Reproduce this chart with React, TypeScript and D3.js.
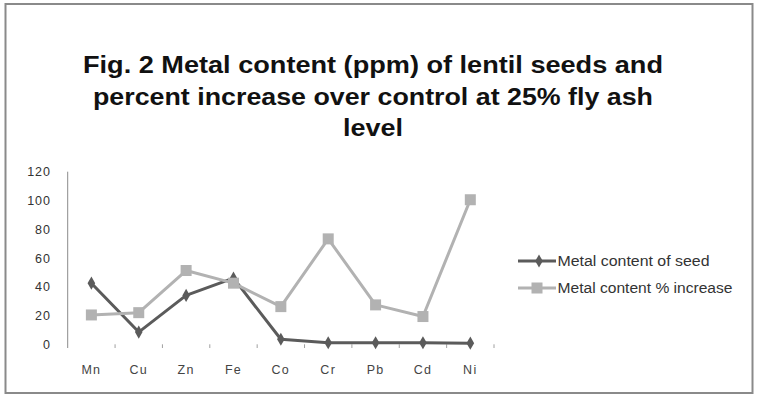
import React from "react";
import * as d3 from "d3";

// categories + the two series
const metals = ["Mn", "Cu", "Zn", "Fe", "Co", "Cr", "Pb", "Cd", "Ni"];
const seedContent = [42.5, 8.5, 34, 46, 3.5, 1.1, 1.1, 1.1, 0.8];
const pctIncrease = [20.4, 22, 51.3, 42.5, 26.2, 73.3, 27.4, 19.3, 100.5];
const yTicks = [0, 20, 40, 60, 80, 100, 120];
const titleLines = [
  "Fig. 2 Metal content (ppm) of lentil seeds and",
  "percent increase over control at 25% fly ash",
  "level",
];
const legendNames = ["Metal content of seed", "Metal content % increase"];

const W = 759;
const H = 399;
const DARK = "#5b5b5b";
const LIGHT = "#b2b2b2";

const App: React.FC = () => {
  const x = d3.scaleBand<string>().domain(metals).range([67.7, 494]).padding(0);
  const y = d3.scaleLinear().domain([0, 120]).range([344.3, 171.7]);
  const cx = (m: string) => (x(m) ?? 0) + x.bandwidth() / 2;

  const line = d3
    .line<number>()
    .x((_, i) => cx(metals[i]))
    .y((d) => y(d));

  const diamond = d3.symbol().type(d3.symbolDiamond).size(50)();

  // title widths measured on the picture
  const titleWidths = [580, 560, 60];
  const titleBase = [73.3, 104.5, 136];

  return (
    <svg width={W} height={H} style={{ position: "absolute", left: 0, top: 0 }}>
      <rect x={0} y={0} width={W} height={H} fill="#fff" />
      <rect x={5.5} y={4} width={747} height={389} fill="#fff" stroke="#8a8a8a" strokeWidth={2} />

      {/* title */}
      <g fontFamily="'Liberation Sans', Arial, sans-serif" fontWeight="bold" fontSize={23} fill="#111">
        {titleLines.map((t, i) => (
          <text
            key={i}
            x={373}
            y={titleBase[i]}
            textAnchor="middle"
            textLength={titleWidths[i]}
            lengthAdjust="spacingAndGlyphs"
          >
            {t}
          </text>
        ))}
      </g>

      {/* y axis */}
      <line x1={67.7} x2={67.7} y1={171.7} y2={348} stroke="#8c8c8c" strokeWidth={1} />
      <g fontFamily="'Liberation Sans', Arial, sans-serif" fontSize={12.5} fill="#333">
        {yTicks.map((t) => (
          <text key={t} x={51} y={y(t) + 4.5} textAnchor="end" letterSpacing={1}>
            {t}
          </text>
        ))}
      </g>

      {/* x axis ticks + labels */}
      {metals.map((m) => (
        <line
          key={"t" + m}
          x1={(x(m) ?? 0) + x.bandwidth()}
          x2={(x(m) ?? 0) + x.bandwidth()}
          y1={344.3}
          y2={348}
          stroke="#a0a0a0"
          strokeWidth={1}
        />
      ))}
      <g fontFamily="'Liberation Sans', Arial, sans-serif" fontSize={12.5} fill="#444">
        {metals.map((m) => (
          <text key={"l" + m} x={cx(m)} y={373.5} textAnchor="middle" letterSpacing={1.3}>
            {m}
          </text>
        ))}
      </g>

      {/* series */}
      <path d={line(seedContent) ?? ""} fill="none" stroke={DARK} strokeWidth={3} strokeLinejoin="round" />
      {seedContent.map((v, i) => (
        <path key={"d" + i} d={diamond ?? ""} transform={`translate(${cx(metals[i])},${y(v)})`} fill={DARK} />
      ))}
      <path d={line(pctIncrease) ?? ""} fill="none" stroke={LIGHT} strokeWidth={3} strokeLinejoin="round" />
      {pctIncrease.map((v, i) => (
        <rect key={"s" + i} x={cx(metals[i]) - 5.5} y={y(v) - 5.5} width={11} height={11} fill={LIGHT} />
      ))}

      {/* legend */}
      <g>
        <line x1={518} x2={556} y1={261} y2={261} stroke={DARK} strokeWidth={3} />
        <path d={diamond ?? ""} transform="translate(539,261)" fill={DARK} />
        <line x1={518} x2={556} y1={288} y2={288} stroke={LIGHT} strokeWidth={3} />
        <rect x={531.5} y={282.5} width={11} height={11} fill={LIGHT} />
        <g fontFamily="'Liberation Sans', Arial, sans-serif" fontSize={14} fill="#333">
          <text x={557.5} y={266} textLength={152} lengthAdjust="spacingAndGlyphs">
            {legendNames[0]}
          </text>
          <text x={557.5} y={293} textLength={175} lengthAdjust="spacingAndGlyphs">
            {legendNames[1]}
          </text>
        </g>
      </g>
    </svg>
  );
};

export default App;
